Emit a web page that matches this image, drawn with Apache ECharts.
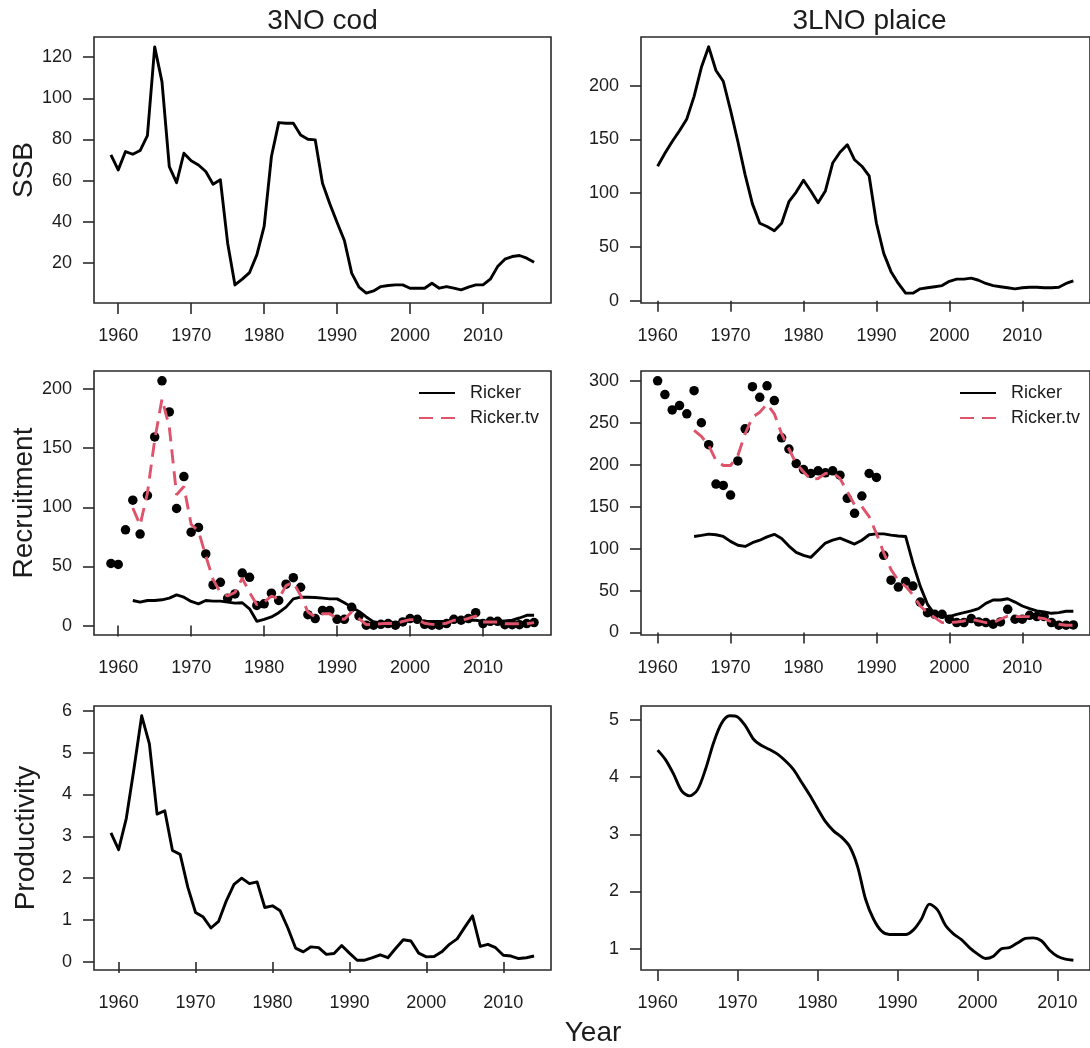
<!DOCTYPE html>
<html>
<head>
<meta charset="utf-8">
<title>3NO cod and 3LNO plaice: SSB, recruitment and productivity</title>
<script src="https://cdn.jsdelivr.net/npm/echarts@6/dist/echarts.min.js"></script>
<style>
  html, body { margin: 0; padding: 0; background: #ffffff; }
  #chart { width: 1090px; height: 1048px; }
</style>
</head>
<body>
<div id="chart"></div>
<script>
// ---------- data ----------
const yearTicks = [1960, 1970, 1980, 1990, 2000, 2010];

// 3NO cod
const codYears = [1959,1960,1961,1962,1963,1964,1965,1966,1967,1968,1969,1970,1971,1972,1973,1974,1975,1976,1977,1978,1979,1980,1981,1982,1983,1984,1985,1986,1987,1988,1989,1990,1991,1992,1993,1994,1995,1996,1997,1998,1999,2000,2001,2002,2003,2004,2005,2006,2007,2008,2009,2010,2011,2012,2013,2014,2015,2016,2017];
const codSSB = [72.5,65.2,74.1,72.8,74.6,81.9,125,108,66.8,59,73.3,69.6,67.6,64.4,58.2,60.4,29.6,9.3,12.1,15.3,23.9,37.7,71.7,88.2,87.9,87.9,82.2,80.1,79.8,58.7,48.7,39.6,30.9,15,8.2,5.3,6.4,8.5,9,9.3,9.3,7.7,7.7,7.7,10.1,7.7,8.5,7.7,6.9,8.2,9.3,9.3,12.1,18.2,21.8,23.1,23.6,22.3,20.3];
const codRecruits = [52.5,51.7,81,106,77.4,110,159.5,207,180.7,99,126,79,83,60.6,34.4,36.6,23.2,26.8,44.4,40.8,17,18.4,27.4,21.2,35,40.5,32.4,9.2,5.9,12.8,12.8,5.3,5.3,15.4,8.1,0.3,0.3,1.1,1.7,0.3,3.1,5.9,5.3,1.1,0.3,0.3,1.7,5.3,4.5,5.9,10.9,1.7,3.6,3.6,0.8,0.8,0.8,1.7,2.5];
const codModelYears = [1962,1963,1964,1965,1966,1967,1968,1969,1970,1971,1972,1973,1974,1975,1976,1977,1978,1979,1980,1981,1982,1983,1984,1985,1986,1987,1988,1989,1990,1991,1992,1993,1994,1995,1996,1997,1998,1999,2000,2001,2002,2003,2004,2005,2006,2007,2008,2009,2010,2011,2012,2013,2014,2015,2016,2017];
const codRicker = [21.2,19.8,21.2,21.2,21.8,23.2,26,24,20.4,18.4,21.2,20.7,20.7,19.8,19,19.3,14.2,3.6,5.3,7.3,10.9,15.6,22.6,24,24,23.7,23.2,22.6,22.6,19.3,15.6,12,7.3,3.1,2.5,2.5,2.5,3.1,4.5,4.5,3.8,3.5,3.5,3.8,4.5,4.5,4.5,4.5,3.5,3.5,3.5,4,4.5,6.4,8.7,8.7];
const codRickerTv = [99.4,85,112,157,191.6,168,110.6,117.6,85.5,80,59,39,28,25,28,40,28,17.6,20,25,22.6,33.8,36.6,25.4,11.5,7.3,10,10,5.9,5.3,11.5,5.9,0.8,1,1.5,2,1.5,3.5,5,5,2,1,1,2,4.5,4.5,6,8,3,3,3,1.5,1.5,1.5,1.5,2.5];
const codProdYears = [1959,1960,1961,1962,1963,1964,1965,1966,1967,1968,1969,1970,1971,1972,1973,1974,1975,1976,1977,1978,1979,1980,1981,1982,1983,1984,1985,1986,1987,1988,1989,1990,1991,1992,1993,1994,1995,1996,1997,1998,1999,2000,2001,2002,2003,2004,2005,2006,2007,2008,2009,2010,2011,2012,2013,2014];
const codProductivity = [3.08,2.68,3.43,4.62,5.88,5.21,3.53,3.61,2.66,2.57,1.78,1.18,1.07,0.81,0.97,1.46,1.85,2.0,1.87,1.91,1.30,1.34,1.22,0.81,0.33,0.24,0.36,0.34,0.18,0.2,0.39,0.21,0.04,0.04,0.1,0.17,0.1,0.32,0.53,0.5,0.21,0.12,0.13,0.24,0.42,0.55,0.83,1.1,0.37,0.42,0.34,0.16,0.14,0.08,0.1,0.14];

// 3LNO plaice
const plaiceYears = [1960,1961,1962,1963,1964,1965,1966,1967,1968,1969,1970,1971,1972,1973,1974,1975,1976,1977,1978,1979,1980,1981,1982,1983,1984,1985,1986,1987,1988,1989,1990,1991,1992,1993,1994,1995,1996,1997,1998,1999,2000,2001,2002,2003,2004,2005,2006,2007,2008,2009,2010,2011,2012,2013,2014,2015,2016,2017];
const plaiceSSB = [125,137,148,158,169,190,217,236,214,204,177,148,117,90,72,69,65,72,92,101,112,102,91,102,128,138,145,131,125,116,72,44,27,16,7,7,11,12,13,14,18,20,20,21,19,16,14,13,12,11,12,12.5,12.5,12,12,12.5,16,18.5];
const plaiceRecruits = [300,283.5,265.3,270.4,260.6,288.2,250,223.8,176.9,175.3,163.8,204.5,242.8,293,280.3,294,276.4,232,218.7,201.3,194.2,189.5,192.7,190.3,192.7,187.5,159.9,142.1,162.7,189.5,184.8,92,62.4,54.1,60.8,55.3,36.3,23.7,21.7,21.7,15.8,11.8,11.8,16.6,12.6,11.8,9.9,12.6,27.6,15.8,15.8,20.5,19,19,11.8,8.7,8.7,9.1];
const plaiceModelYears = [1965,1966,1967,1968,1969,1970,1971,1972,1973,1974,1975,1976,1977,1978,1979,1980,1981,1982,1983,1984,1985,1986,1987,1988,1989,1990,1991,1992,1993,1994,1995,1996,1997,1998,1999,2000,2001,2002,2003,2004,2005,2006,2007,2008,2009,2010,2011,2012,2013,2014,2015,2016,2017];
const plaiceRicker = [114.5,115.7,117.3,116.5,114.5,108.6,104,102.6,107,110,114,117,112,103,95.5,92,89.6,98,106.6,110,112.5,109,105.4,110,116.5,117.6,117.6,116,115,114.5,82.9,55.3,33.6,21.7,19,19,21.7,23.7,25.7,28.4,34.7,38.7,38.7,40.3,36.3,31.6,28.4,25.7,24.5,22.9,23.7,25.3,25.3];
const plaiceRickerTv = [240.8,233.7,223,205,199,199,211,236.9,256.6,262.5,272.4,260.6,236.9,219,201.3,191.5,182.4,183.6,189.5,190.3,183.6,168,152,150,138,118,95,75,62,55,45,31.6,23.7,17.8,11.8,11.8,12.6,13.8,15.8,13.8,11.8,11.8,15.8,19.7,19,19,19,17.8,16.6,12.6,9.9,8.7,8.7];
const plaiceProdYears = [1960,1961,1962,1963,1964,1965,1966,1967,1968,1969,1970,1971,1972,1973,1974,1975,1976,1977,1978,1979,1980,1981,1982,1983,1984,1985,1986,1987,1988,1989,1990,1991,1992,1993,1994,1995,1996,1997,1998,1999,2000,2001,2002,2003,2004,2005,2006,2007,2008,2009,2010,2011,2012];
const plaiceProductivity = [4.47,4.30,4.05,3.76,3.67,3.78,4.14,4.60,4.94,5.07,5.05,4.89,4.66,4.55,4.48,4.40,4.28,4.13,3.91,3.69,3.45,3.22,3.06,2.95,2.79,2.44,1.87,1.52,1.31,1.25,1.25,1.25,1.33,1.52,1.78,1.68,1.41,1.26,1.16,1.02,0.91,0.83,0.87,1.0,1.02,1.10,1.18,1.19,1.14,0.98,0.87,0.82,0.80];

// y-axis tick labels per panel
const codSSBTicks = [20, 40, 60, 80, 100, 120];
const plaiceSSBTicks = [0, 50, 100, 150, 200];
const codRecTicks = [0, 50, 100, 150, 200];
const plaiceRecTicks = [0, 50, 100, 150, 200, 250, 300];
const codProdTicks = [0, 1, 2, 3, 4, 5, 6];
const plaiceProdTicks = [1, 2, 3, 4, 5];

// ---------- layout & style ----------
const FONT = '"Liberation Sans", Arial, Helvetica, sans-serif';
const INK = '#1c1c1c';
const TV_RED = '#DF536B';
const cols = [{ left: 94, width: 457 }, { left: 641, width: 457 }];
const rows = [{ top: 37, height: 266 }, { top: 371, height: 264 }, { top: 706, height: 264 }];

// axis limits padded by 4% of the data range on each side
function paddedRange(...arrays) {
  let lo = Infinity, hi = -Infinity;
  arrays.forEach(a => a.forEach(v => { if (v < lo) lo = v; if (v > hi) hi = v; }));
  const pad = (hi - lo) * 0.04;
  return { min: lo - pad, max: hi + pad };
}
const pairs = (xs, ys) => xs.map((x, i) => [x, ys[i]]);
const plain = v => String(v);

const panels = [
  { col: 0, row: 0, years: [codYears], values: [codSSB], ticks: codSSBTicks, name: 'SSB' },
  { col: 1, row: 0, years: [plaiceYears], values: [plaiceSSB], ticks: plaiceSSBTicks, name: '' },
  { col: 0, row: 1, years: [codYears, codModelYears], values: [codRecruits, codRicker, codRickerTv], ticks: codRecTicks, name: 'Recruitment' },
  { col: 1, row: 1, years: [plaiceYears, plaiceModelYears], values: [plaiceRecruits, plaiceRicker, plaiceRickerTv], ticks: plaiceRecTicks, name: '' },
  { col: 0, row: 2, years: [codProdYears], values: [codProductivity], ticks: codProdTicks, name: 'Productivity' },
  { col: 1, row: 2, years: [plaiceProdYears], values: [plaiceProductivity], ticks: plaiceProdTicks, name: '' }
];

const grid = [], xAxis = [], yAxis = [];
panels.forEach((p, i) => {
  grid.push({
    left: cols[p.col].left, width: cols[p.col].width,
    top: rows[p.row].top, height: rows[p.row].height,
    show: true, borderColor: '#2a2a2a', borderWidth: 1.6,
    backgroundColor: 'transparent', containLabel: false
  });
  const xr = paddedRange(...p.years);
  const yr = paddedRange(...p.values);
  xAxis.push({
    type: 'value', gridIndex: i, min: xr.min, max: xr.max,
    axisLine: { show: false },
    splitLine: { show: false },
    axisTick: { show: true, length: 11, customValues: yearTicks, lineStyle: { color: '#2a2a2a', width: 1.6 } },
    axisLabel: { customValues: yearTicks, formatter: plain, fontSize: 18, fontFamily: FONT, color: INK, margin: 24 }
  });
  yAxis.push({
    type: 'value', gridIndex: i, min: yr.min, max: yr.max,
    axisLine: { show: false },
    splitLine: { show: false },
    axisTick: { show: true, length: 11, customValues: p.ticks, lineStyle: { color: '#2a2a2a', width: 1.6 } },
    axisLabel: { customValues: p.ticks, formatter: plain, fontSize: 18, fontFamily: FONT, color: INK, margin: 22 },
    name: p.name, nameLocation: 'middle', nameRotate: 90, nameGap: 54,
    nameTextStyle: { fontSize: 28, fontFamily: FONT, color: INK }
  });
});

const solid = (name, xi, data, smooth) => ({
  name, type: 'line', xAxisIndex: xi, yAxisIndex: xi, data, symbol: 'none', z: 3,
  smooth: smooth || false,
  lineStyle: { color: '#000', width: 2.9, join: 'round' }, itemStyle: { color: '#000' }
});
const dashed = (name, xi, data) => ({
  name, type: 'line', xAxisIndex: xi, yAxisIndex: xi, data, symbol: 'none', z: 4,
  lineStyle: { color: TV_RED, width: 2.9, type: [14, 8] }, itemStyle: { color: TV_RED }
});
const dots = (xi, data) => ({
  name: 'Observed', type: 'scatter', xAxisIndex: xi, yAxisIndex: xi, data,
  symbol: 'circle', symbolSize: 9.5, z: 2, itemStyle: { color: '#000', opacity: 1 }
});

const series = [
  solid('SSB cod', 0, pairs(codYears, codSSB)),
  solid('SSB plaice', 1, pairs(plaiceYears, plaiceSSB)),
  dots(2, pairs(codYears, codRecruits)),
  solid('Ricker', 2, pairs(codModelYears, codRicker)),
  dashed('Ricker.tv', 2, pairs(codModelYears, codRickerTv)),
  dots(3, pairs(plaiceYears, plaiceRecruits)),
  solid('Ricker', 3, pairs(plaiceModelYears, plaiceRicker)),
  dashed('Ricker.tv', 3, pairs(plaiceModelYears, plaiceRickerTv)),
  solid('Productivity cod', 4, pairs(codProdYears, codProductivity)),
  // plaice productivity is a smoothed trend, so draw it as a curve
  solid('Productivity plaice', 5, pairs(plaiceProdYears, plaiceProductivity), 0.3)
];

// legend keys are line samples only, no point marker
const legendBase = {
  data: ['Ricker', 'Ricker.tv'], orient: 'vertical', itemWidth: 36, itemHeight: 14, itemGap: 7,
  selectedMode: false, padding: 0,
  itemStyle: { opacity: 0 },
  textStyle: { fontSize: 18, fontFamily: FONT, color: INK, padding: [0, 0, 0, 10] }
};

const chart = echarts.init(document.getElementById('chart'), null, { renderer: 'canvas' });
chart.setOption({
  animation: false,
  backgroundColor: '#ffffff',
  grid, xAxis, yAxis, series,
  legend: [
    Object.assign({ left: 418, top: 384 }, legendBase),
    Object.assign({ left: 959, top: 384 }, legendBase)
  ],
  graphic: [
    { type: 'text', x: 322.5, y: 21, style: { text: '3NO cod', font: '28px ' + FONT, fill: INK, textAlign: 'center', textVerticalAlign: 'middle' } },
    { type: 'text', x: 869.5, y: 21, style: { text: '3LNO plaice', font: '28px ' + FONT, fill: INK, textAlign: 'center', textVerticalAlign: 'middle' } },
    { type: 'text', x: 593, y: 1033, style: { text: 'Year', font: '28px ' + FONT, fill: INK, textAlign: 'center', textVerticalAlign: 'middle' } }
  ]
});
</script>
</body>
</html>
